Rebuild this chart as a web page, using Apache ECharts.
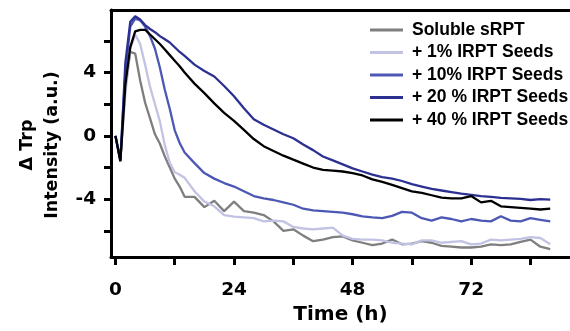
<!DOCTYPE html>
<html>
<head>
<meta charset="utf-8">
<script src="https://cdn.jsdelivr.net/npm/echarts@6/dist/echarts.min.js"></script>
<style>html,body{margin:0;padding:0;background:#fff;}#c{width:570px;height:331px;}</style>
</head>
<body>
<div id="c"></div>
<script>
const times = [0,1,2,3,4,5,6,7,8,9,10,11,12,13,14,
  16,18,20,22,24,26,28,30,32,34,36,38,40,42,44,46,48,50,52,54,56,58,60,62,64,66,68,70,72,74,76,78,80,82,84,86,88];

const soluble = [0,-1.5,3.0,5.3,5.2,3.5,2.1,1.1,0.1,-0.5,-1.3,-2.0,-2.7,-3.2,-3.85,
  -3.85,-4.5,-4.1,-4.75,-4.15,-4.75,-4.85,-5.0,-5.4,-6.0,-5.9,-6.3,-6.65,-6.55,-6.4,-6.35,-6.6,-6.75,-6.9,-6.8,-6.55,-6.85,-6.8,-6.65,-6.75,-6.95,-7.0,-7.05,-7.05,-7.0,-6.85,-6.9,-6.85,-6.7,-6.55,-7.0,-7.15];
const seed1 = [0,-1.5,2.6,5.5,6.4,5.8,4.5,3.1,2.0,0.9,-0.6,-1.7,-2.3,-2.45,-2.65,
  -3.5,-4.15,-4.45,-5.0,-5.1,-5.15,-5.2,-5.4,-5.35,-5.4,-5.75,-5.85,-5.9,-5.85,-5.8,-6.3,-6.5,-6.55,-6.55,-6.6,-6.75,-6.8,-6.85,-6.6,-6.6,-6.75,-6.7,-6.65,-6.85,-6.8,-6.55,-6.6,-6.55,-6.5,-6.4,-6.45,-6.85];
const seed10 = [0,-1.5,4.0,6.9,7.4,7.3,6.9,6.3,5.5,4.3,2.9,1.7,0.35,-0.45,-1.05,
  -1.72,-2.35,-2.7,-2.98,-3.2,-3.5,-3.8,-3.95,-4.05,-4.2,-4.35,-4.6,-4.7,-4.75,-4.8,-4.85,-4.95,-5.08,-5.15,-5.2,-5.05,-4.8,-4.85,-5.2,-5.35,-5.15,-5.25,-5.4,-5.25,-5.35,-5.4,-5.08,-5.35,-5.4,-5.2,-5.3,-5.4];
const seed20 = [0,-1.6,4.6,7.2,7.55,7.35,7.0,6.75,6.55,6.3,6.1,5.9,5.6,5.3,5.05,
  4.5,4.1,3.75,3.15,2.5,1.75,1.05,0.7,0.4,0.1,-0.15,-0.55,-0.9,-1.3,-1.55,-1.8,-2.05,-2.25,-2.45,-2.6,-2.7,-2.85,-3.05,-3.2,-3.35,-3.45,-3.55,-3.65,-3.72,-3.8,-3.85,-3.92,-3.95,-3.98,-4.05,-4.0,-4.03];
const seed40 = [0,-1.6,3.2,5.6,6.6,6.7,6.7,6.4,6.1,5.8,5.45,5.1,4.75,4.4,4.0,
  3.3,2.7,2.05,1.45,0.95,0.38,-0.2,-0.65,-0.95,-1.25,-1.5,-1.75,-2.0,-2.15,-2.2,-2.25,-2.35,-2.5,-2.75,-2.9,-3.1,-3.3,-3.5,-3.6,-3.75,-3.9,-3.95,-3.95,-3.8,-4.2,-4.1,-4.45,-4.5,-4.55,-4.6,-4.65,-4.6];

const seriesNames = ['Soluble sRPT','+ 1% IRPT Seeds','+ 10% IRPT Seeds','+ 20 % IRPT Seeds','+ 40 % IRPT Seeds'];
const seriesColors = ['#7f7f7f','#c2c2e4','#4c58b4','#2c3191','#000000'];
const seriesValues = [soluble, seed1, seed10, seed20, seed40];

const xTickValues = [0,12,24,36,48,60,72,84];
const xLabelValues = [0,24,48,72];
const yTickValues = [-6,-4,-2,0,2,4,6];
const yLabelValues = [-4,0,4];

const chart = echarts.init(document.getElementById('c'), null, {renderer:'canvas'});
const tickFont = {fontFamily:'DejaVu Sans', fontWeight:'bold', fontSize:18.5, color:'#000'};
const option = {
  animation:false,
  backgroundColor:'#fff',
  grid:{left:111, right:-8, top:10, bottom:74},
  legend:{
    orient:'vertical', left:365, top:16, itemWidth:33, itemHeight:3, itemGap:4.5, icon:'rect',
    textStyle:{fontFamily:'Liberation Sans', fontWeight:'bold', fontSize:17.5, color:'#000', padding:[0,0,0,4]},
    data:seriesNames
  },
  xAxis:[{
    type:'value', min:-0.9, max:92,
    axisLine:{onZero:false, lineStyle:{color:'#000', width:3}},
    axisTick:{customValues:xTickValues, length:8, lineStyle:{color:'#000', width:3}},
    axisLabel:Object.assign({customValues:xLabelValues, margin:24}, tickFont),
    splitLine:{show:false},
    name:'Time (h)', nameLocation:'middle', nameGap:48,
    nameTextStyle:{fontFamily:'DejaVu Sans', fontWeight:'bold', fontSize:20, color:'#000'}
  },{
    type:'value', position:'top', min:-0.9, max:92,
    axisLine:{show:true, onZero:false, lineStyle:{color:'#000', width:3}},
    axisTick:{show:false}, axisLabel:{show:false}, splitLine:{show:false}
  }],
  yAxis:{
    type:'value', min:-7.65, max:7.95,
    axisLine:{show:true, onZero:false, lineStyle:{color:'#000', width:3}},
    axisTick:{show:true, customValues:yTickValues, length:7, lineStyle:{color:'#000', width:3}},
    axisLabel:Object.assign({customValues:yLabelValues, margin:15}, tickFont),
    splitLine:{show:false},
    name:'\u0394 Trp\nIntensity (a.u.)', nameLocation:'middle', nameGap:46,
    nameTextStyle:{fontFamily:'DejaVu Sans', fontWeight:'bold', fontSize:17.5, lineHeight:25, color:'#000', padding:[0,23,0,0]}
  },
  series: seriesNames.map((n,i)=>({
    name:n, type:'line', symbol:'none', color:seriesColors[i],
    lineStyle:{width:2.3, color:seriesColors[i]},
    data: times.map((t,k)=>[t, seriesValues[i][k]])
  }))
};
chart.setOption(option);
</script>
</body>
</html>
